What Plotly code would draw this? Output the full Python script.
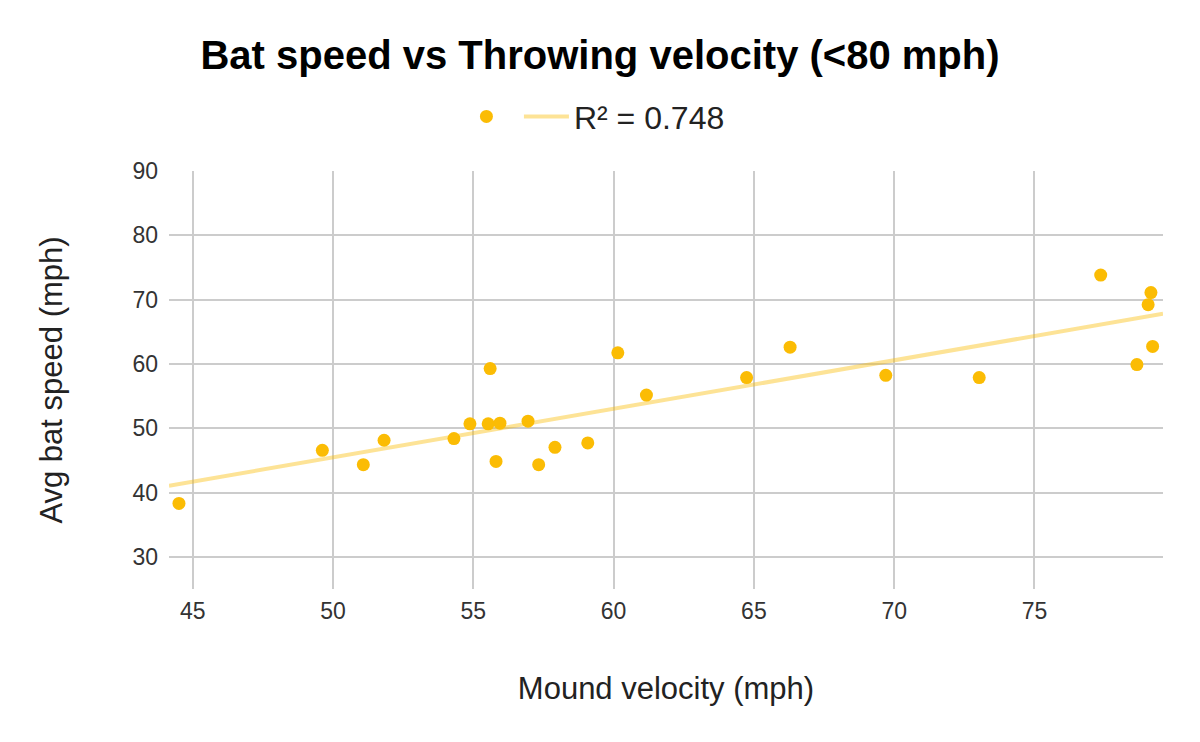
import numpy as np
import plotly.graph_objects as go

# Data
mound_velocity = [44.51, 49.62, 51.08, 51.82, 54.31, 54.88, 55.53, 55.60, 55.81, 55.95,
                  56.95, 57.33, 57.91, 59.08, 60.15, 61.17, 64.74, 66.29, 69.70, 73.03,
                  77.36, 78.65, 79.05, 79.15, 79.21]
bat_speed = [38.3, 46.56, 44.33, 48.13, 48.39, 50.69, 50.69, 59.28, 44.84, 50.78,
             51.09, 44.33, 47.03, 47.72, 61.72, 55.16, 57.87, 62.61, 58.23, 57.87,
             73.81, 59.9, 69.22, 71.1, 62.72]
r2_label = "R² = 0.748"
title_text = "Bat speed vs Throwing velocity (<80 mph)"
x_title = "Mound velocity (mph)"
y_title = "Avg bat speed (mph)"
x_range = [44.155, 79.58]
y_range = [25, 90]

slope, intercept = np.polyfit(mound_velocity, bat_speed, 1)
trend_x = np.array(x_range)
trend_y = slope * trend_x + intercept

YELLOW = "#fbbc04"
FONT = "Liberation Sans, Arial, sans-serif"

fig = go.Figure()
fig.add_trace(go.Scatter(
    x=mound_velocity, y=bat_speed, mode="markers", name="",
    marker=dict(color=YELLOW, size=13, line=dict(width=0)),
    cliponaxis=False,
))
fig.add_trace(go.Scatter(
    x=trend_x, y=trend_y, mode="lines", name=r2_label,
    line=dict(color="rgba(251,188,4,0.42)", width=4),
    hoverinfo="skip",
))

fig.update_layout(
    width=1200, height=742,
    paper_bgcolor="white", plot_bgcolor="white",
    margin=dict(l=169, r=37, t=171, b=153),
    font=dict(family=FONT, color="#222222"),
    title=dict(text=f"<b>{title_text}</b>", x=0.5, xanchor="center",
               y=0.926, yanchor="middle",
               font=dict(family=FONT, size=40, color="#000000")),
    legend=dict(orientation="h", x=0.428, xanchor="center", y=1.13, yanchor="middle",
                font=dict(size=32, color="#222222"), itemwidth=45,
                bgcolor="rgba(0,0,0,0)"),
    showlegend=True,
)
fig.update_xaxes(
    range=x_range, tick0=45, dtick=5, showgrid=True, gridcolor="#cccccc", gridwidth=1.6,
    zeroline=False, showline=False, ticks="", ticklabelstandoff=6,
    tickfont=dict(size=23, color="#333333"),
    title=dict(text=x_title, font=dict(size=31, color="#222222"), standoff=54),
)
fig.update_yaxes(
    range=y_range, tick0=30, dtick=10, showgrid=True, gridcolor="#cccccc", gridwidth=1.6,
    zeroline=False, showline=False, ticks="", ticklabelstandoff=10,
    tickfont=dict(size=23, color="#333333"),
    title=dict(text=y_title, font=dict(size=31, color="#222222"), standoff=60),
)

fig.write_html("out.html", config={"displayModeBar": False},
               post_script="document.body.style.margin='0';")
